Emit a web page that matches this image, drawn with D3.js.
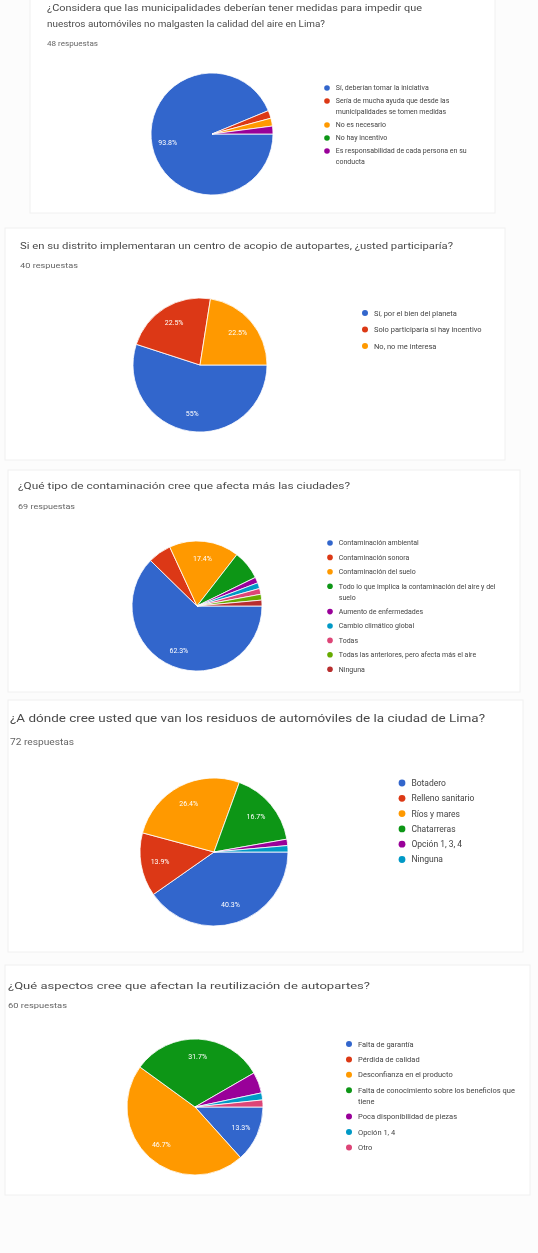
<!DOCTYPE html>
<html>
<head>
<meta charset="utf-8">
<script src="https://cdn.jsdelivr.net/npm/d3@7"></script>
<style>
  html, body { margin: 0; padding: 0; background: #fcfcfc; }
  svg { display: block; }
</style>
</head>
<body>
<script>
// ---------- DATA ----------
const palette = ["#3366cc", "#dc3912", "#ff9900", "#109618", "#990099", "#0099c6", "#dd4477", "#66aa00", "#b82e2e"];

const titles = [
  ["¿Considera que las municipalidades deberían tener medidas para impedir que", "nuestros automóviles no malgasten la calidad del aire en Lima?"],
  ["Si en su distrito implementaran un centro de acopio de autopartes, ¿usted participaría?"],
  ["¿Qué tipo de contaminación cree que afecta más las ciudades?"],
  ["¿A dónde cree usted que van los residuos de automóviles de la ciudad de Lima?"],
  ["¿Qué aspectos cree que afectan la reutilización de autopartes?"]
];
const subtitles = ["48 respuestas", "40 respuestas", "69 respuestas", "72 respuestas", "60 respuestas"];

const categories1 = ["Sí, deberían tomar la iniciativa", "Sería de mucha ayuda que desde las municipalidades se tomen medidas", "No es necesario", "No hay incentivo", "Es responsabilidad de cada persona en su conducta"];
const values1 = [45, 1, 1, 0, 1];

const categories2 = ["Sí, por el bien del planeta", "Solo participaría si hay incentivo", "No, no me interesa"];
const values2 = [22, 9, 9];

const categories3 = ["Contaminación ambiental", "Contaminación sonora", "Contaminación del suelo", "Todo lo que implica la contaminación del aire y del suelo", "Aumento de enfermedades", "Cambio climático global", "Todas", "Todas las anteriores, pero afecta más el aire", "Ninguna"];
const values3 = [43, 4, 12, 5, 1, 1, 1, 1, 1];

const categories4 = ["Botadero", "Relleno sanitario", "Ríos y mares", "Chatarreras", "Opción 1, 3, 4", "Ninguna"];
const values4 = [29, 10, 19, 12, 1, 1];

const categories5 = ["Falta de garantía", "Pérdida de calidad", "Desconfianza en el producto", "Falta de conocimiento sobre los beneficios que tiene", "Poca disponibilidad de piezas", "Opción 1, 4", "Otro"];
const values5 = [8, 0, 28, 19, 3, 1, 1];

const allCategories = [categories1, categories2, categories3, categories4, categories5];
const allValues = [values1, values2, values3, values4, values5];

// ---------- LAYOUT ----------
const W = 538, H = 1253;
const cards = [
  {x: 30, y: -5, w: 465, h: 218},
  {x: 5, y: 228, w: 500, h: 232},
  {x: 8, y: 470, w: 512, h: 222},
  {x: 8, y: 700, w: 515, h: 252},
  {x: 5, y: 965, w: 525, h: 230}
];
const layout = [
  {tx: 47, ty: [11, 27], tw: [375, 278], sy: 46, sw: 51, tfs: 9, cx: 212, cy: 134, r: 61, lx: 327, ly: 88, step: 13, lineH: 11, lw: 148, lfs: 7, br: 2.8},
  {tx: 20, ty: [249], tw: [433], sy: 268, sw: 58, tfs: 9.5, cx: 200, cy: 365, r: 67, lx: 365, ly: 313, step: 16.5, lineH: 11, lw: 125, lfs: 7.5, br: 3},
  {tx: 18, ty: [489], tw: [332], sy: 509, sw: 57, tfs: 9.5, cx: 197, cy: 606, r: 65, lx: 330, ly: 543, step: 14.4, lineH: 11, lw: 160, lfs: 7, br: 2.8},
  {tx: 10, ty: [722], tw: [475], sy: 745, sw: 64, tfs: 10, cx: 214, cy: 852, r: 74, lx: 402, ly: 783, step: 15.3, lineH: 11, lw: 110, lfs: 8.5, br: 3.4},
  {tx: 8, ty: [989], tw: [362], sy: 1008, sw: 59, tfs: 9.5, cx: 195, cy: 1107, r: 68, lx: 349, ly: 1044, step: 15.4, lineH: 11, lw: 160, lfs: 7.5, br: 3}
];

const svg = d3.select("body").append("svg").attr("width", W).attr("height", H)
  .style("font-family", "Roboto, 'Liberation Sans', Arial, sans-serif");

const defs = svg.append("defs");
defs.append("filter").attr("id", "soft").attr("x", "-5%").attr("y", "-5%").attr("width", "110%").attr("height", "110%")
  .append("feGaussianBlur").attr("stdDeviation", 0.6);

const root = svg.append("g").attr("filter", "url(#soft)");
root.append("rect").attr("width", W).attr("height", H).attr("fill", "#fcfcfc");

const fmtPct = v => d3.format(".1f")(v).replace(/\.0$/, "") + "%";

allValues.forEach((values, i) => {
  const L = layout[i], C = cards[i];
  const cats = allCategories[i];
  const g = root.append("g");

  g.append("rect").attr("x", C.x).attr("y", C.y).attr("width", C.w).attr("height", C.h)
    .attr("fill", "#ffffff").attr("stroke", "#f0f0f0");

  titles[i].forEach((line, k) => {
    g.append("text").attr("x", L.tx).attr("y", L.ty[k]).text(line)
      .attr("font-size", L.tfs).attr("fill", "#4a4a4a")
      .attr("textLength", L.tw[k]).attr("lengthAdjust", "spacingAndGlyphs");
  });
  g.append("text").attr("x", L.tx).attr("y", L.sy).text(subtitles[i])
    .attr("font-size", L.tfs - 1.5).attr("fill", "#666666")
    .attr("textLength", L.sw).attr("lengthAdjust", "spacingAndGlyphs");

  const total = d3.sum(values);
  const color = d3.scaleOrdinal().domain(cats).range(palette);
  const pie = d3.pie().value(d => d.v).sort(null)
    .startAngle(Math.PI / 2).endAngle(Math.PI / 2 + 2 * Math.PI);
  const data = cats.map((c, j) => ({c, v: values[j]}));
  const arcs = pie(data);
  const arc = d3.arc().innerRadius(0).outerRadius(L.r);
  const labelArc = d3.arc().innerRadius(L.r * 0.74).outerRadius(L.r * 0.74);

  const pg = g.append("g").attr("transform", `translate(${L.cx},${L.cy})`);
  pg.selectAll("path").data(arcs.filter(a => a.data.v > 0)).join("path")
    .attr("d", arc).attr("fill", a => color(a.data.c))
    .attr("stroke", "#ffffff").attr("stroke-width", 0.8);

  pg.selectAll("text").data(arcs.filter(a => a.data.v / total >= 0.1)).join("text")
    .attr("transform", a => `translate(${labelArc.centroid(a)})`)
    .attr("text-anchor", "middle").attr("dy", "0.35em")
    .attr("font-size", 7).attr("fill", "#ffffff")
    .text(a => fmtPct(a.data.v / total * 100));

  // legend
  const lg = g.append("g");
  let y = L.ly;
  cats.forEach((c, j) => {
    lg.append("circle").attr("cx", L.lx).attr("cy", y).attr("r", L.br).attr("fill", color(c));
    const t = lg.append("text").attr("x", L.lx + L.br + 6).attr("y", y).attr("dy", "0.35em")
      .attr("font-size", L.lfs).attr("fill", "#444444");
    const words = c.split(" ");
    let line = [], lines = [];
    const probe = lg.append("text").attr("font-size", L.lfs);
    words.forEach(w => {
      line.push(w);
      probe.text(line.join(" "));
      if (probe.node().getComputedTextLength() > L.lw && line.length > 1) {
        line.pop();
        lines.push(line.join(" "));
        line = [w];
      }
    });
    lines.push(line.join(" "));
    probe.remove();
    lines.forEach((ln, k) => {
      t.append("tspan").attr("x", L.lx + L.br + 6).attr("dy", k === 0 ? "0.35em" : L.lineH).text(ln);
    });
    y += L.step + (lines.length - 1) * L.lineH;
  });
});
</script>
</body>
</html>
